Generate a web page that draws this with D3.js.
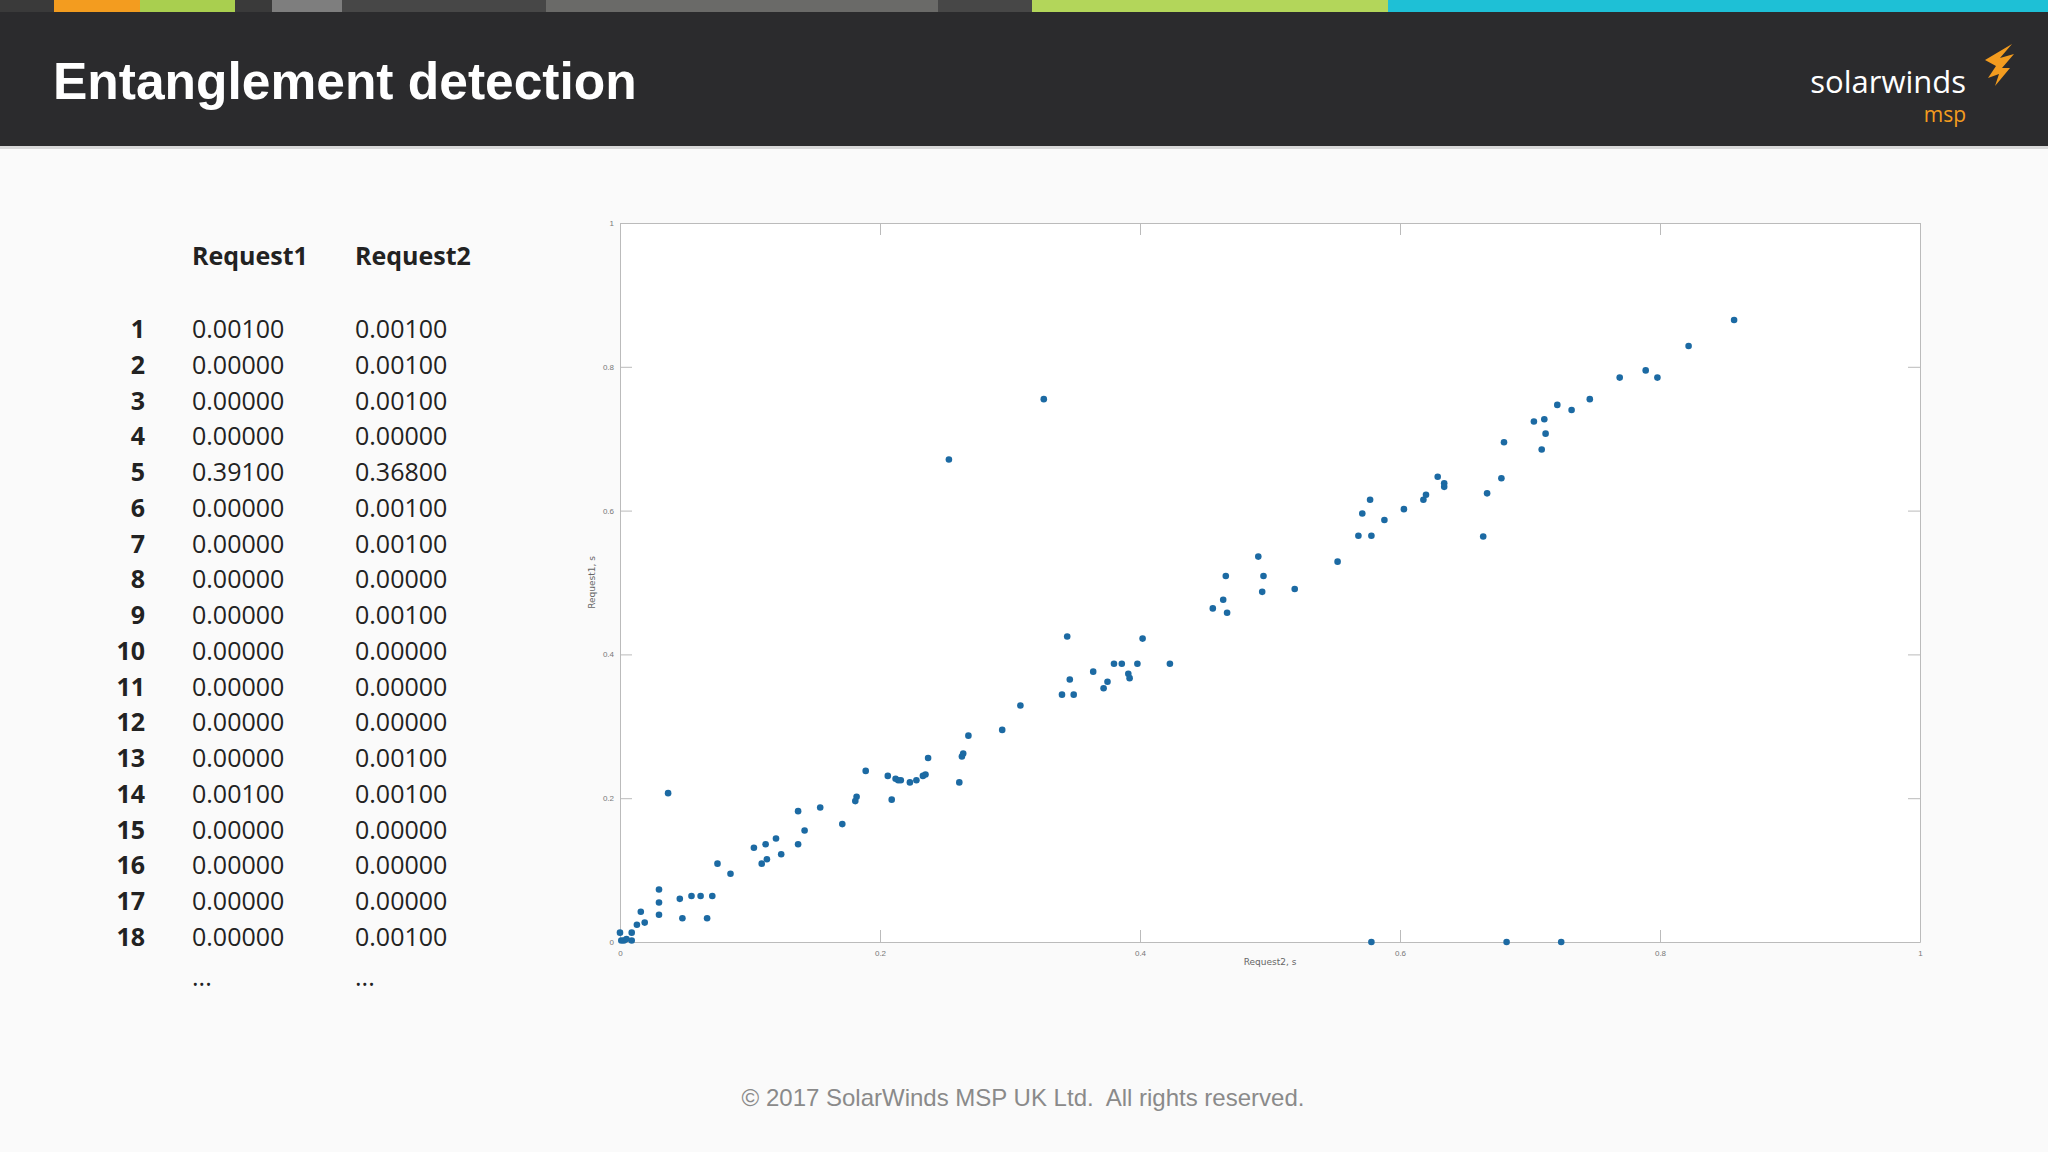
<!DOCTYPE html>
<html><head><meta charset="utf-8">
<script src="https://cdn.jsdelivr.net/npm/d3@7"></script>
<style>body{margin:0;background:#fafafa;}svg{display:block;}</style>
</head><body>
<svg id="chart" width="2048" height="1152"></svg>
<script>
// table rows shown on the left
var rowIds = d3.range(1, 19);
var request1Col = ["0.00100","0.00000","0.00000","0.00000","0.39100","0.00000","0.00000","0.00000","0.00000","0.00000","0.00000","0.00000","0.00000","0.00100","0.00000","0.00000","0.00000","0.00000"];
var request2Col = ["0.00100","0.00100","0.00100","0.00000","0.36800","0.00100","0.00100","0.00000","0.00100","0.00000","0.00000","0.00000","0.00100","0.00100","0.00000","0.00000","0.00000","0.00100"];

// scatter points: x = Request2, y = Request1 (seconds)
var req2 = [0.001,0.003,0.005,0,0.009,0.009,0.037,0.016,0.013,0.019,0.030,0.030,0.030,0.046,0.048,0.055,0.062,0.071,0.067,0.075,0.085,0.103,0.112,0.109,0.113,0.120,0.124,0.137,0.137,0.142,0.154,0.171,0.182,0.181,0.189,0.206,0.209,0.212,0.214,0.216,0.223,0.228,0.233,0.235,0.237,0.253,0.261,0.263,0.264,0.268,0.294,0.308,0.326,0.340,0.344,0.346,0.349,0.364,0.372,0.375,0.380,0.386,0.391,0.392,0.398,0.402,0.423,0.456,0.464,0.466,0.467,0.491,0.495,0.494,0.519,0.552,0.568,0.571,0.577,0.578,0.588,0.603,0.618,0.620,0.629,0.634,0.634,0.664,0.667,0.678,0.680,0.703,0.709,0.711,0.712,0.721,0.732,0.746,0.769,0.789,0.798,0.822,0.857,0.578,0.682,0.724];
var req1 = [0.002,0.002,0.004,0.013,0.013,0.002,0.207,0.042,0.024,0.027,0.073,0.055,0.038,0.060,0.033,0.064,0.064,0.064,0.033,0.109,0.095,0.131,0.136,0.109,0.115,0.144,0.122,0.182,0.136,0.155,0.187,0.164,0.202,0.196,0.238,0.231,0.198,0.227,0.225,0.225,0.222,0.225,0.231,0.233,0.256,0.671,0.222,0.258,0.262,0.287,0.295,0.329,0.755,0.344,0.425,0.365,0.344,0.376,0.353,0.362,0.387,0.387,0.373,0.367,0.387,0.422,0.387,0.464,0.476,0.509,0.458,0.536,0.509,0.487,0.491,0.529,0.565,0.596,0.615,0.565,0.587,0.602,0.615,0.622,0.647,0.638,0.633,0.564,0.624,0.645,0.695,0.724,0.685,0.727,0.707,0.747,0.740,0.755,0.785,0.795,0.785,0.829,0.865,0,0,0];
var axisTicks = [0, 0.2, 0.4, 0.6, 0.8, 1];

var stripes = [[0,54,"#3a3a3a"],[54,140,"#f39c1f"],[140,235,"#a9cf4f"],[235,272,"#3a3a3a"],[272,342,"#7e7e7e"],[342,546,"#474747"],[546,938,"#6a6a68"],[938,1032,"#474747"],[1032,1388,"#b3d65a"],[1388,2048,"#1ec0d6"]];

var svg = d3.select("#chart");

//header bar
svg.append("rect").attr("x",0).attr("y",0).attr("width",2048).attr("height",146).attr("fill","#2b2b2d");
svg.selectAll(".stripe").data(stripes).enter().append("rect")
    .attr("x",d=>d[0]).attr("y",0).attr("width",d=>d[1]-d[0]).attr("height",12).attr("fill",d=>d[2]);
svg.append("rect").attr("x",0).attr("y",146).attr("width",2048).attr("height",3).attr("fill","#d8d8d8");
svg.append("text").attr("x",53).attr("y",99).attr("fill","#fff")
    .style("font-family","Liberation Sans, Arial").style("font-weight","bold").style("font-size","51.5px")
    .text("Entanglement detection");

//logo
svg.append("text").attr("x",1966).attr("y",93).attr("text-anchor","end").attr("fill","#fff")
    .style("font-family","Open Sans").style("font-size","31px").text("solarwinds");
svg.append("text").attr("x",1966).attr("y",122).attr("text-anchor","end").attr("fill","#f39c1f")
    .style("font-family","Open Sans").style("font-size","21px").text("msp");
svg.append("path").attr("fill","#f39c1f")
    .attr("d","M1985,60 L2012,44 L2000,58 L2014,54 L2002,68 L2010,68 L1995,86 L1999,74 L1988,78 L1996,66 Z");

//footer
svg.append("text").attr("x",1023).attr("y",1106).attr("text-anchor","middle").attr("fill","#8a8a8a")
    .style("font-family","Liberation Sans, Arial").style("font-size","24px").style("white-space","pre")
    .text("© 2017 SolarWinds MSP UK Ltd.\u00a0 All rights reserved.");

//table
var tf = "Open Sans, Lato";
var tbl = svg.append("g").style("font-family",tf).style("font-size","25px").attr("fill","#222");
tbl.append("text").attr("x",192).attr("y",265).style("font-weight","bold").text("Request1");
tbl.append("text").attr("x",355).attr("y",265).style("font-weight","bold").text("Request2");
var rowY = d3.scaleLinear().domain([1,18]).range([338,946]);
rowIds.forEach(function(id,i){
    tbl.append("text").attr("x",145).attr("y",rowY(id)).attr("text-anchor","end").style("font-weight","bold").text(id);
    tbl.append("text").attr("x",192).attr("y",rowY(id)).text(request1Col[i]);
    tbl.append("text").attr("x",355).attr("y",rowY(id)).text(request2Col[i]);
});
tbl.append("text").attr("x",192).attr("y",rowY(19)+4).text("...");
tbl.append("text").attr("x",355).attr("y",rowY(19)+4).text("...");

//scatter plot
var L = 620, R = 1920, T = 223, B = 942;
svg.append("rect").attr("x",L).attr("y",T).attr("width",R-L).attr("height",B-T).attr("fill","#fff");
var x = d3.scaleLinear().domain([0,1]).range([L,R]);
var y = d3.scaleLinear().domain([0,1]).range([B,T]);
function styleAxis(g){ g.selectAll("path,line").attr("stroke","#bbb"); g.selectAll("text").attr("fill","#777").style("font-size","8px"); }
svg.append("g").attr("transform","translate(0,"+B+")").call(d3.axisBottom(x).tickValues(axisTicks).tickFormat(d3.format("~g")).tickSize(-12).tickSizeOuter(0).tickPadding(8)).call(styleAxis);
svg.append("g").attr("transform","translate("+L+",0)").call(d3.axisLeft(y).tickValues(axisTicks).tickFormat(d3.format("~g")).tickSize(-12).tickSizeOuter(0).tickPadding(6)).call(styleAxis);
svg.append("g").attr("transform","translate(0,"+T+")").call(d3.axisTop(x).tickValues(axisTicks).tickFormat("").tickSize(-12).tickSizeOuter(0)).call(styleAxis);
svg.append("g").attr("transform","translate("+R+",0)").call(d3.axisRight(y).tickValues(axisTicks).tickFormat("").tickSize(-12).tickSizeOuter(0)).call(styleAxis);
svg.append("text").attr("x",x(0.5)).attr("y",B+23).attr("text-anchor","middle").attr("fill","#666")
    .style("font-family","DejaVu Sans").style("font-size","9px").text("Request2, s");
svg.append("text").attr("transform","translate("+(L-25)+","+y(0.5)+") rotate(-90)").attr("text-anchor","middle").attr("fill","#666")
    .style("font-family","DejaVu Sans").style("font-size","9px").text("Request1, s");

svg.append("g").selectAll("circle").data(req2).enter().append("circle")
    .attr("cx",d=>x(d)).attr("cy",(d,i)=>y(req1[i])).attr("r",3.3).attr("fill","#1c6aa3");
</script>
</body></html>
